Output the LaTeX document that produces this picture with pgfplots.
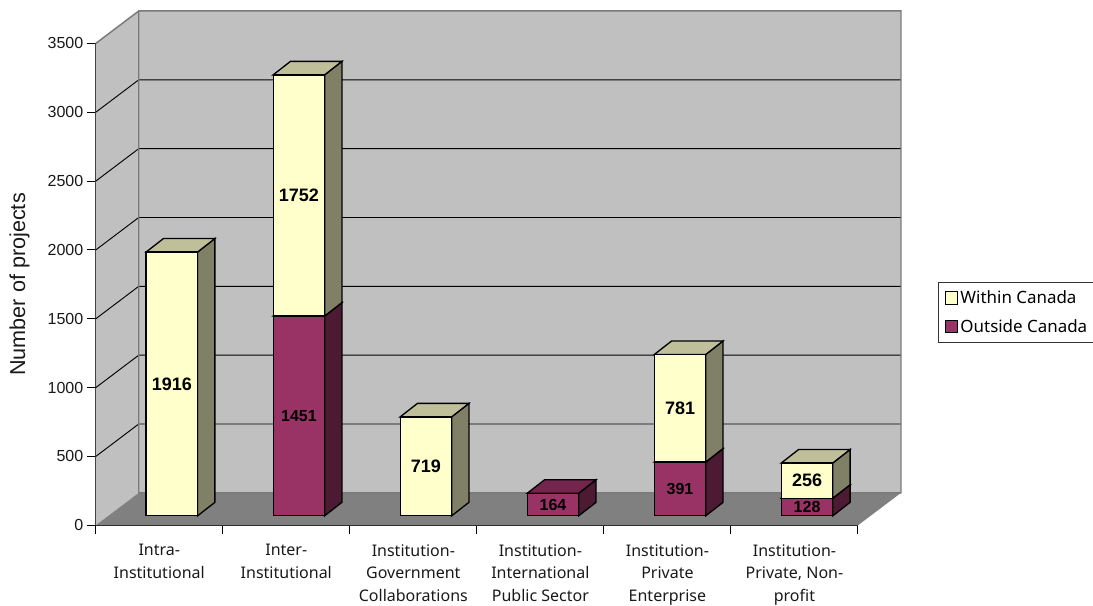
\documentclass[border=0pt]{standalone}
\usepackage{fontspec}
\setmainfont{Noto Sans}
\newfontfamily\numfont{Liberation Sans}
\usepackage{pgfplots}
\pgfplotsset{compat=1.18}

\definecolor{wall}{HTML}{C0C0C0}
\definecolor{floorgray}{HTML}{808080}
\definecolor{edgegray}{HTML}{7A7A7A}
\definecolor{withinFront}{HTML}{FFFFCC}
\definecolor{withinSide}{HTML}{808066}
\definecolor{withinTop}{HTML}{BFBF99}
\definecolor{outsideFront}{HTML}{993366}
\definecolor{outsideSide}{HTML}{4D1A33}
\definecolor{outsideTop}{HTML}{73264D}

% Depth of the chart box and of each bar, in data units
\def\wallDx{0.3386}
\def\wallDy{236}
\def\barDx{0.1362}
\def\barDy{98}
\def\barLift{69}
\def\barShift{0.0992}
\def\barHalf{0.2024}

% One stacked block: category, base of the block, value, colour prefix, label size
\newcommand{\segment}[5]{%
  \pgfmathsetmacro{\xa}{#1+0.5+\barShift-\barHalf}
  \pgfmathsetmacro{\xb}{#1+0.5+\barShift+\barHalf}
  \pgfmathsetmacro{\xc}{\xa+\barDx}
  \pgfmathsetmacro{\xd}{\xb+\barDx}
  \pgfmathsetmacro{\ya}{#2+\barLift}
  \pgfmathsetmacro{\yb}{#2+#3+\barLift}
  \pgfmathsetmacro{\yc}{\ya+\barDy}
  \pgfmathsetmacro{\yd}{\yb+\barDy}
  \pgfmathsetmacro{\xm}{(\xa+\xb)/2}
  \pgfmathsetmacro{\ym}{(\ya+\yb)/2}
  \addplot[barface,fill=#4Side,forget plot] coordinates {(\xb,\ya) (\xd,\yc) (\xd,\yd) (\xb,\yb)} -- cycle;
  \addplot[barface,fill=#4Top,forget plot] coordinates {(\xa,\yb) (\xb,\yb) (\xd,\yd) (\xc,\yd)} -- cycle;
  \addplot[barface,fill=#4Front,forget plot] coordinates {(\xa,\ya) (\xb,\ya) (\xb,\yb) (\xa,\yb)} -- cycle;
  \edef\temp{\noexpand\node[font=\noexpand\numfont\noexpand\bfseries\noexpand\fontsize{#5}{#5}\noexpand\selectfont,text=black] at (axis cs:\xm,\ym) {#3};}
  \temp
}

\begin{document}
\begin{tikzpicture}[x=1pt,y=1pt]
\path[use as bounding box] (0,0) rectangle (819.75pt,454.5pt);
\begin{axis}[
  at={(71.8pt,60.5pt)}, anchor=south west,
  scale only axis, width=571.7pt, height=361.4pt,
  clip=false,
  xmin=0, xmax=6, ymin=0, ymax=3500,
  axis x line*=bottom, axis y line*=left,
  axis line style={black,line width=0.9pt},
  tick align=outside, tick style={black,line width=0.75pt},
  major tick length=6.8pt,
  xtick={0,1,2,3,4,5,6}, xticklabel=\empty,
  extra x ticks={0.5,1.5,2.5,3.5,4.5,5.5},
  extra x tick style={major tick length=0pt},
  extra x tick labels={{Intra-\\Institutional},{Inter-\\Institutional},{Institution-\\Government\\Collaborations},{Institution-\\International\\Public Sector},{Institution-\\Private\\Enterprise},{Institution-\\Private, Non-\\profit}},
  xticklabel style={align=center,anchor=north,font=\fontsize{12}{16.9}\selectfont,yshift=-10.7pt,text=black!90},
  ytick={0,500,1000,1500,2000,2500,3000,3500},
  yticklabel style={font=\numfont\fontsize{12}{14}\selectfont,text=black!90,xshift=1pt},
  /pgf/number format/assume math mode=true,
  /pgf/number format/1000 sep={},
  every axis y label/.style={at={(axis description cs:-0.1,0.5)},rotate=90,anchor=center},
  ylabel={Number of projects},
  ylabel style={font=\numfont\fontsize{16.2}{18}\selectfont,text=black!90},
  legend style={at={(axis description cs:1.105,0.505)},anchor=north west,
    draw=black!80,line width=0.75pt,font=\fontsize{12.7}{14}\selectfont,
    row sep=6.4pt,inner xsep=4.5pt,inner ysep=4.2pt,cells={anchor=west}},
  legend image code/.code={\draw[#1,line width=0.75pt,draw=black] (0pt,-4.4pt) rectangle (9.2pt,4.8pt);},
  barface/.style={draw=black,line width=1pt,line join=miter},
]
% Walls and floor of the chart box
\addplot[draw=none,fill=wall,forget plot] coordinates {(0,0) (0,3500) (0.3386,3736) (0.3386,236)} -- cycle;
\addplot[draw=none,fill=wall,forget plot] coordinates {(0.3386,236) (6.3386,236) (6.3386,3736) (0.3386,3736)} -- cycle;
\addplot[draw=none,fill=floorgray,forget plot] coordinates {(0,0) (6,0) (6.3386,236) (0.3386,236)} -- cycle;
% Grid lines run up the side wall and across the back
\pgfplotsinvokeforeach{500,1000,1500,2000,2500,3000}{
  \addplot[black,line width=0.7pt,forget plot] coordinates {(0,#1) (0.3386,#1+236) (6.3386,#1+236)};
}
\addplot[edgegray,line width=1.1pt,forget plot] coordinates {(0,3500) (0.3386,3736) (6.3386,3736) (6.3386,236) (0.3386,236) (0.3386,3736)};

% Stacks: outside Canada below, within Canada above
\segment{0}{0}{1916}{within}{13.5}
\segment{1}{0}{1451}{outside}{12}
\segment{1}{1451}{1752}{within}{13.5}
\segment{2}{0}{719}{within}{13.5}
\segment{3}{0}{164}{outside}{12}
\segment{4}{0}{391}{outside}{12}
\segment{4}{391}{781}{within}{13.5}
\segment{5}{0}{128}{outside}{12}
\segment{5}{128}{256}{within}{13.5}

\addlegendimage{fill=withinFront}
\addlegendentry{Within Canada}
\addlegendimage{fill=outsideFront}
\addlegendentry{Outside Canada}
\end{axis}
\end{tikzpicture}
\end{document}
